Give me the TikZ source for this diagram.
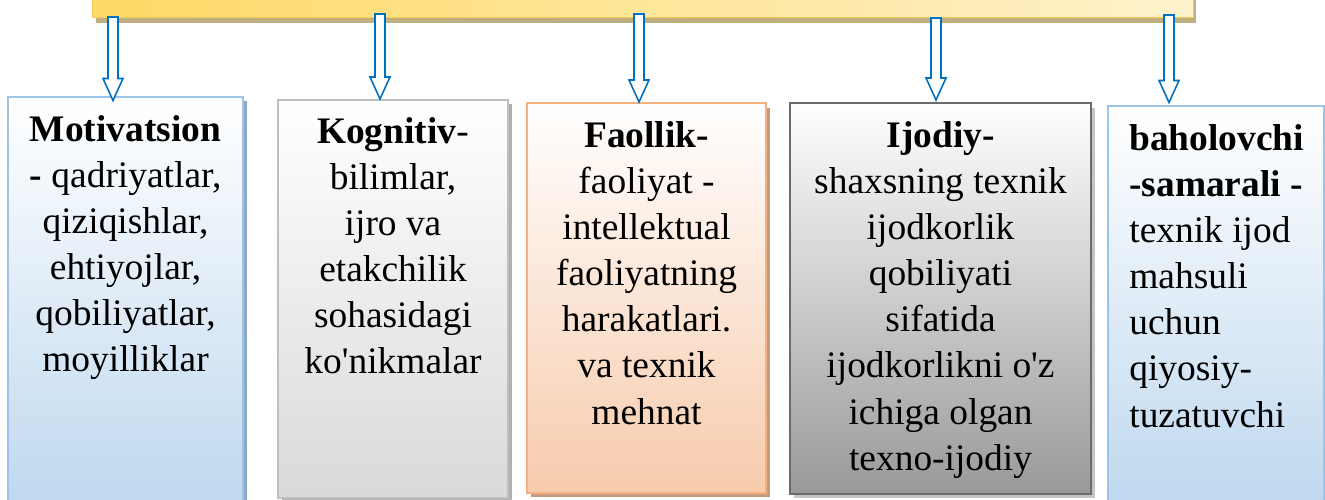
\documentclass[tikz,border=0pt]{standalone}
\usepackage{fontspec}
\setmainfont{Liberation Serif}[Ligatures=TeXOff]
\usepackage{tikz}
\usetikzlibrary{calc,positioning,shadows}
\definecolor{arrowblue}{HTML}{0070C0}
\definecolor{barleft}{HTML}{FFD966}
\definecolor{barright}{HTML}{FFF2CC}
\definecolor{barrim}{HTML}{F9CB55}
\definecolor{barshade}{HTML}{BFAE82}
\definecolor{blueedge}{HTML}{9DC3E6}
\definecolor{bluefill}{HTML}{BDD7EE}
\definecolor{blueshade}{HTML}{8EA9C8}
\definecolor{grayedge}{HTML}{BFBFBF}
\definecolor{grayfill}{HTML}{D9D9D9}
\definecolor{grayshade}{HTML}{B0B0B0}
\definecolor{orangeedge}{HTML}{F4B183}
\definecolor{orangefill}{HTML}{F7CBAC}
\definecolor{orangeshade}{HTML}{C59A7E}
\definecolor{darkedge}{HTML}{6B6B6B}
\definecolor{darkfill}{HTML}{999999}
\definecolor{darkshade}{HTML}{C4C4C4}
\tikzset{
  box/.style={rectangle, line width=1.2pt, anchor=north west, inner sep=0pt, top color=white},
  txt/.style={align=center, inner sep=0pt, anchor=north, font=\fontsize{21.3}{26.2}\selectfont},
  arrowline/.style={draw=arrowblue, fill=white, line width=0.9pt, line join=miter},
}
\def\hollowarrow(#1)(#2){\draw[arrowline] ($(#1)+(-5,0)$) -- ($(#2)+(-5,-22)$) -- ($(#2)+(-10,-22)$) -- (#2) -- ($(#2)+(10,-22)$) -- ($(#2)+(5,-22)$) -- ($(#1)+(5,0)$) -- cycle;}

\begin{document}
\begin{tikzpicture}[x=0.02cm, y=-0.02cm]
		%%%%% START %%%%%
		\useasboundingbox (0,0) rectangle (1325,500);
		\clip (0,0) rectangle (1325,500);
		
		\node[box, draw=blueedge, bottom color=bluefill, minimum width=4.70cm, minimum height=8.38cm,
		  drop shadow={shadow xshift=0.07cm, shadow yshift=-0.08cm, fill=blueshade, opacity=1}] (motiv) at (7,96) {};
		\node[box, draw=grayedge, bottom color=grayfill, minimum width=4.60cm, minimum height=7.96cm,
		  drop shadow={shadow xshift=0.08cm, shadow yshift=-0.08cm, fill=grayshade, opacity=1}] (kogn) at (277,99) {};
		\node[box, draw=orangeedge, bottom color=orangefill, minimum width=4.78cm, minimum height=7.80cm,
		  drop shadow={shadow xshift=0.07cm, shadow yshift=-0.09cm, fill=orangeshade, opacity=1}] (faol) at (526,102) {};
		\node[box, draw=darkedge, bottom color=darkfill, minimum width=6.02cm, minimum height=7.82cm,
		  drop shadow={shadow xshift=0.08cm, shadow yshift=-0.09cm, fill=darkshade, opacity=1}] (ijod) at (789,102) {};
		\node[box, draw=blueedge, bottom color=bluefill, minimum width=4.32cm, minimum height=8.20cm] (bahol) at (1107,105) {};
		
		\node[txt, below=0.39cm of motiv.north] (motivT) {\textbf{Motivatsion}\\\textbf{-} qadriyatlar,\\qiziqishlar,\\ehtiyojlar,\\qobiliyatlar,\\moyilliklar};
		\node[txt, below=0.37cm of kogn.north] (kognT) {\textbf{Kognitiv}-\\bilimlar,\\ijro va\\etakchilik\\sohasidagi\\ko'nikmalar};
		\node[txt, below=0.39cm of faol.north] (faolT) {\textbf{Faollik-}\\faoliyat -\\intellektual\\faoliyatning\\harakatlari.\\va texnik\\mehnat};
		\node[txt, below=0.39cm of ijod.north] (ijodT) {\textbf{Ijodiy-}\\shaxsning texnik\\ijodkorlik\\qobiliyati\\sifatida\\ijodkorlikni o'z\\ichiga olgan\\texno-ijodiy};
		\node[txt, align=left, below right=0.39cm and 0.44cm of bahol.north west, anchor=north west] (baholT) {\textbf{baholovchi}\\\textbf{-samarali -}\\texnik ijod\\mahsuli\\uchun\\qiyosiy-\\tuzatuvchi};
		
		\node[rectangle, anchor=north west, draw=barrim, line width=0.6pt, left color=barleft, right color=barright,
		  minimum width=22.02cm, minimum height=0.6cm, inner sep=0pt,
		  drop shadow={shadow xshift=0.06cm, shadow yshift=-0.11cm, fill=barshade, opacity=1}] (bar) at (92,-13) {};
		
		\coordinate (s1) at (113,17);
		\coordinate (s2) at (380,14);
		\coordinate (s3) at (639,14);
		\coordinate (s4) at (936,18);
		\coordinate (s5) at (1169,15);
		\coordinate[yshift=-0.09cm] (t1) at (s1 |- motiv.north);
		\coordinate (t2) at (s2 |- kogn.north);
		\coordinate (t3) at (s3 |- faol.north);
		\coordinate[yshift=0.04cm] (t4) at (s4 |- ijod.north);
		\coordinate[yshift=0.05cm] (t5) at (s5 |- bahol.north);
		\hollowarrow(s1)(t1)
		\hollowarrow(s2)(t2)
		\hollowarrow(s3)(t3)
		\hollowarrow(s4)(t4)
		\hollowarrow(s5)(t5)
		
		%%%%% END %%%%%
	\end{tikzpicture}
\end{document}
